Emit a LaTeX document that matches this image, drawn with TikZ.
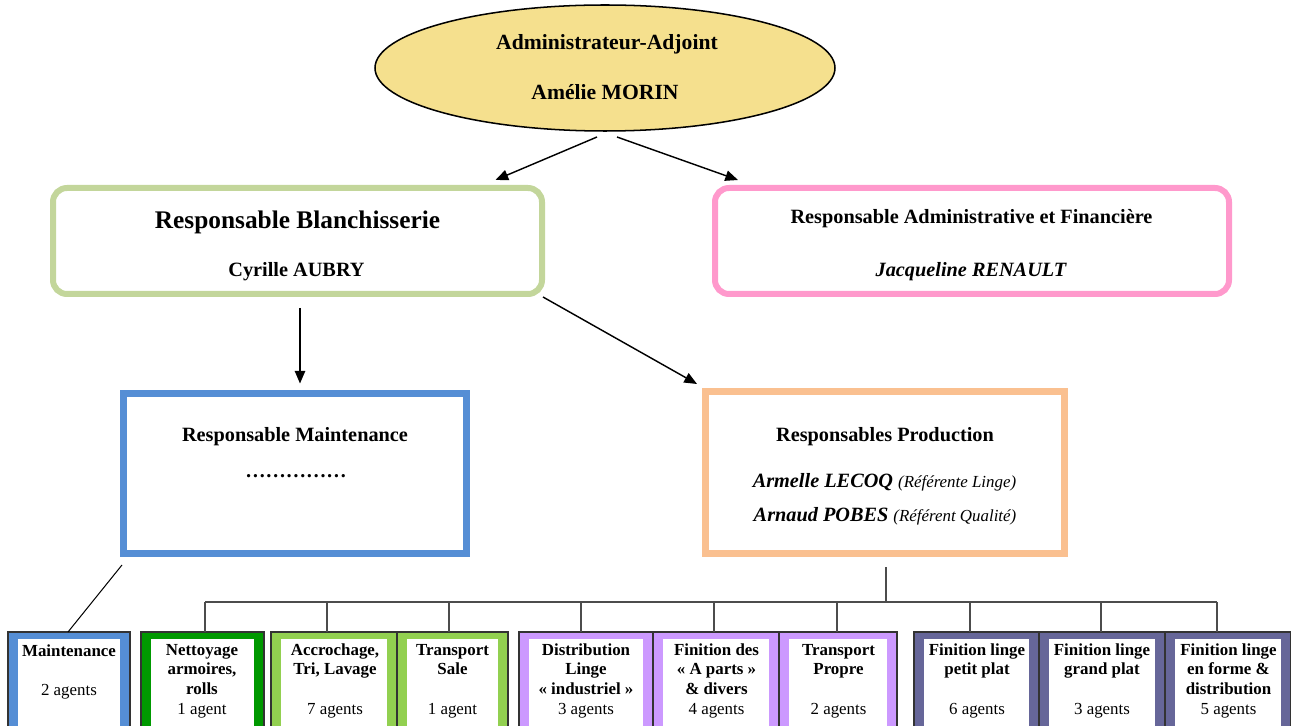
\documentclass[tikz,border=0pt]{standalone}
\usepackage{fontspec}
\setmainfont{Liberation Serif}
\usetikzlibrary{arrows.meta,shapes.geometric,calc}
\definecolor{ellfill}{RGB}{245,224,142}
\definecolor{olivegr}{RGB}{195,214,155}
\definecolor{pinkc}{RGB}{255,153,204}
\definecolor{bluec}{RGB}{85,142,213}
\definecolor{orangec}{RGB}{250,192,144}
\definecolor{dkgreen}{RGB}{0,153,0}
\definecolor{ltgreen}{RGB}{146,208,80}
\definecolor{violetc}{RGB}{204,153,255}
\definecolor{slatec}{RGB}{102,102,153}
\tikzset{
  lbl/.style={anchor=base, inner sep=0pt, align=center},
  blbl/.style={lbl, font=\fontsize{10}{11.54}\selectfont},
  bigbox/.style={draw, inner sep=0pt, outer sep=0pt},
  arr/.style={-{Triangle[length=7.5pt,width=6.2pt]}, line width=0.85pt},
  conn/.style={line width=0.85pt, draw=black!70},
  bframe/.style={draw=black!80, line width=0.9pt, inner sep=0pt, outer sep=0pt, minimum height={128*0.5917pt}},
  binner/.style={fill=white, inner sep=0pt, outer sep=0pt, minimum height={121*0.5917pt}},
}
\newcommand\bbox[4]{%
  \node[bframe, fill=#4, minimum width={(#3-#2)*0.5917pt}] (#1) at ({(#2+#3)/2},696) {};
  \node[binner, minimum width={(#3-#2-20)*0.5917pt}] (#1in) at ({(#2+#3)/2},699.5) {};
}
\begin{document}
\begin{tikzpicture}[x=0.5917pt,y=-0.5917pt]
\useasboundingbox (0,0) rectangle (1291,726);
\clip (0,0) rectangle (1291,726);

% top ellipse
\node[ellipse, draw, fill=ellfill, line width=0.9pt, inner sep=0pt, outer sep=0pt,
      minimum width={460*0.5917pt}, minimum height={126*0.5917pt}] (adj) at (605,68) {};
\node[lbl, font=\bfseries\fontsize{12.8}{15}\selectfont] (adjT) at (607,50) {Administrateur-Adjoint};
\node[lbl, font=\bfseries\fontsize{12.8}{15}\selectfont] (adjN) at (605,100) {Amélie MORIN};

% second level
\node[bigbox, draw=olivegr, line width={6*0.5917pt}, rounded corners={14*0.5917pt},
      minimum width={489*0.5917pt}, minimum height={106*0.5917pt}] (blanch) at (297.5,241) {};
\node[lbl, font=\bfseries\fontsize{15}{18}\selectfont] (blanchT) at (297.5,229) {Responsable Blanchisserie};
\node[lbl, font=\bfseries\fontsize{12}{14}\selectfont] (blanchN) at (296.5,277) {Cyrille AUBRY};

\node[bigbox, draw=pinkc, line width={6*0.5917pt}, rounded corners={14*0.5917pt},
      minimum width={514*0.5917pt}, minimum height={106*0.5917pt}] (raf) at (972,241) {};
\node[lbl, font=\bfseries\fontsize{12}{14}\selectfont] (rafT) at (971.5,224) {Responsable Administrative et Financière};
\node[lbl, font=\bfseries\itshape\fontsize{12}{14}\selectfont] (rafN) at (971,277) {Jacqueline RENAULT};

% third level
\node[bigbox, draw=bluec, line width={7*0.5917pt},
      minimum width={343*0.5917pt}, minimum height={160*0.5917pt}] (maint) at (295,473.5) {};
\node[lbl, font=\bfseries\fontsize{12}{14}\selectfont] (maintT) at (295,442) {Responsable Maintenance};
\node[lbl, font=\bfseries\fontsize{12}{14}\selectfont] (maintN) at (296,477) {……………};

\node[bigbox, draw=orangec, line width={7*0.5917pt},
      minimum width={359*0.5917pt}, minimum height={162*0.5917pt}] (prod) at (885,472.5) {};
\node[lbl, font=\bfseries\fontsize{12}{14}\selectfont] (prodT) at (885,442) {Responsables Production};
\node[lbl, font=\fontsize{12}{14}\selectfont] (prodA) at (884.5,487)
  {{\bfseries\itshape Armelle LECOQ} {\itshape\fontsize{10}{12}\selectfont (Référente Linge)}};
\node[lbl, font=\fontsize{12}{14}\selectfont] (prodB) at (885,521)
  {{\bfseries\itshape Arnaud POBES} {\itshape\fontsize{10}{12}\selectfont (Référent Qualité)}};

% arrows
\draw[arr] ($(adj.south)+(-8,6)$) -- ($(blanch.north)+(198,-8)$);
\draw[arr] ($(adj.south)+(12,6)$) -- ($(raf.north)+(-234,-8)$);
\draw[arr] ($(blanch.south)+(2.5,14)$) -- ($(maint.north)+(5,-10)$);
\draw[arr] ($(blanch.south east)+(1,3)$) -- ($(prod.north west)+(-8.5,-7.5)$);

% bottom boxes
\bbox{b1}{8}{130}{bluec}
\bbox{b2}{141}{264}{dkgreen}
\bbox{b3}{271}{397}{ltgreen}
\bbox{b4}{397}{508}{ltgreen}
\bbox{b5}{519}{653}{violetc}
\bbox{b6}{653}{779}{violetc}
\bbox{b7}{779}{897}{violetc}
\bbox{b8}{914}{1039}{slatec}
\bbox{b9}{1039}{1165}{slatec}
\bbox{b10}{1165}{1291}{slatec}

% connectors to bottom level
\draw[line width=0.6pt] ($(maint.south west)+(-1.5,11.5)$) -- ($(b1.north)+(-1,0)$);
\draw[conn] ($(prod.south)+(1,13.5)$) -- ($(prod.south)+(1,48.5)$) coordinate (busmid);
\coordinate (busL) at (205,602);
\coordinate (busR) at (1217,602);
\draw[conn] (busL) -- (busR);
\foreach \n/\x in {b2/205,b3/327,b4/449,b5/581,b6/714,b7/837,b8/970,b9/1101,b10/1217}
  \draw[conn] (\x,602) -- (\x,602 |- \n.north);

% bottom texts (anchor=base is the baseline of the last line)
\node[blbl] (t1) at (69,695.5) {\textbf{Maintenance}\\[11.54pt]2 agents};
\node[blbl] (t2) at (202,714) {\textbf{Nettoyage}\\\textbf{armoires,}\\\textbf{rolls}\\1 agent};
\node[blbl] (t3) at (335,714) {\textbf{Accrochage,}\\\textbf{Tri, Lavage}\\[11.54pt]7 agents};
\node[blbl] (t4) at (452.5,714) {\textbf{Transport}\\\textbf{Sale}\\[11.54pt]1 agent};
\node[blbl] (t5) at (586,714) {\textbf{Distribution}\\\textbf{Linge}\\\textbf{«~industriel~»}\\3 agents};
\node[blbl] (t6) at (716.5,714) {\textbf{Finition des}\\\textbf{«~A parts~»}\\\textbf{\& divers}\\4 agents};
\node[blbl] (t7) at (838.5,714) {\textbf{Transport}\\\textbf{Propre}\\[11.54pt]2 agents};
\node[blbl] (t8) at (977,714) {\textbf{Finition linge}\\\textbf{petit plat}\\[11.54pt]6 agents};
\node[blbl] (t9) at (1102,714) {\textbf{Finition linge}\\\textbf{grand plat}\\[11.54pt]3 agents};
\node[blbl] (t10) at (1228.5,714) {\textbf{Finition linge}\\\textbf{en forme \&}\\\textbf{distribution}\\5 agents};
\end{tikzpicture}
\end{document}
